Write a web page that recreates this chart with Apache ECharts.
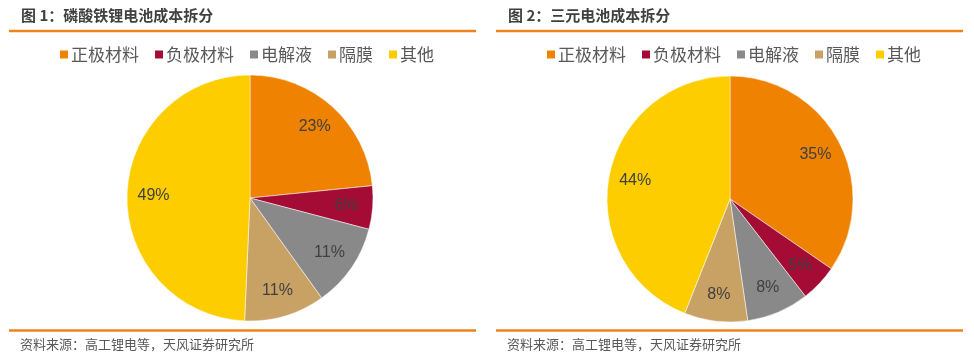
<!DOCTYPE html>
<html><head><meta charset="utf-8">
<script src="https://cdn.jsdelivr.net/npm/echarts@6/dist/echarts.min.js"></script>
<style>html,body{margin:0;padding:0;background:#fff}#c{width:974px;height:361px}</style>
</head><body><div id="c"></div>
<script>
const categories = ['正极材料','负极材料','电解液','隔膜','其他'];
const lfpValues = [23.4, 5.7, 11.0, 10.6, 49.3];
const ncmValues = [34.6, 4.9, 8.2, 8.3, 44.0];
const titles = ['图 1：磷酸铁锂电池成本拆分','图 2：三元电池成本拆分'];
const sourceText = '资料来源：高工锂电等，天风证券研究所';
const colors = ['#EF8200','#A50C35','#898989','#C8A264','#FDCD00'];

const chart = echarts.init(document.getElementById('c'), null, {renderer:'canvas'});
const cjk = '"Noto Sans CJK SC", "Microsoft YaHei", sans-serif';
const panels = [{x:0, vals:lfpValues, cx:250, cy:198}, {x:487, vals:ncmValues, cx:730, cy:199}];
const R = 123;
const series = [];
const legends = [];
const graphics = [];
panels.forEach((p,i)=>{
  const data = categories.map((n,k)=>({name:n, value:p.vals[k]}));
  series.push({
    type:'pie', center:[p.cx,p.cy], radius:[0,R], startAngle:90, clockwise:true,
    data, label:{show:false}, labelLine:{show:false}, animation:false,
    itemStyle:{borderColor:'#fff', borderWidth:0.5},
    emphasis:{disabled:true}
  });
  series.push({
    type:'pie', center:[p.cx,p.cy], radius:[R*0.52,R], startAngle:90, clockwise:true,
    data, silent:true, animation:false, legendHoverLink:false,
    itemStyle:{color:'rgba(0,0,0,0)'},
    label:{show:true, position:'inside', fontFamily:'"Liberation Sans", Arial, sans-serif', fontSize:16, color:'#404040',
      formatter:(pr)=>Math.round(pr.value)+'%'},
    labelLine:{show:false}, emphasis:{disabled:true}
  });
  legends.push({
    left:p.x+58, top:46, padding:0, orient:'horizontal', icon:'rect', itemWidth:10, itemHeight:10, itemGap:14,
    data:categories, selectedMode:false,
    textStyle:{fontFamily:cjk, fontSize:17, color:'#595959', padding:[0,0,0,-3]}
  });
  graphics.push({type:'text', left:p.x+21, top:8, style:{text:titles[i], font:'bold 15px '+cjk, fill:'#404040'}});
  graphics.push({type:'line', shape:{x1:p.x+9, y1:31, x2:p.x+476, y2:31}, style:{stroke:'#F0821E', lineWidth:2.5}});
  graphics.push({type:'line', shape:{x1:p.x+9, y1:330.5, x2:p.x+476, y2:330.5}, style:{stroke:'#F0821E', lineWidth:2.5}});
  graphics.push({type:'text', left:p.x+20, top:338, style:{text:sourceText, font:'13px '+cjk, fill:'#595959'}});
});
chart.setOption({
  animation:false,
  backgroundColor:'#fff',
  color:colors,
  legend:legends,
  series,
  graphic:graphics
});
</script></body></html>
